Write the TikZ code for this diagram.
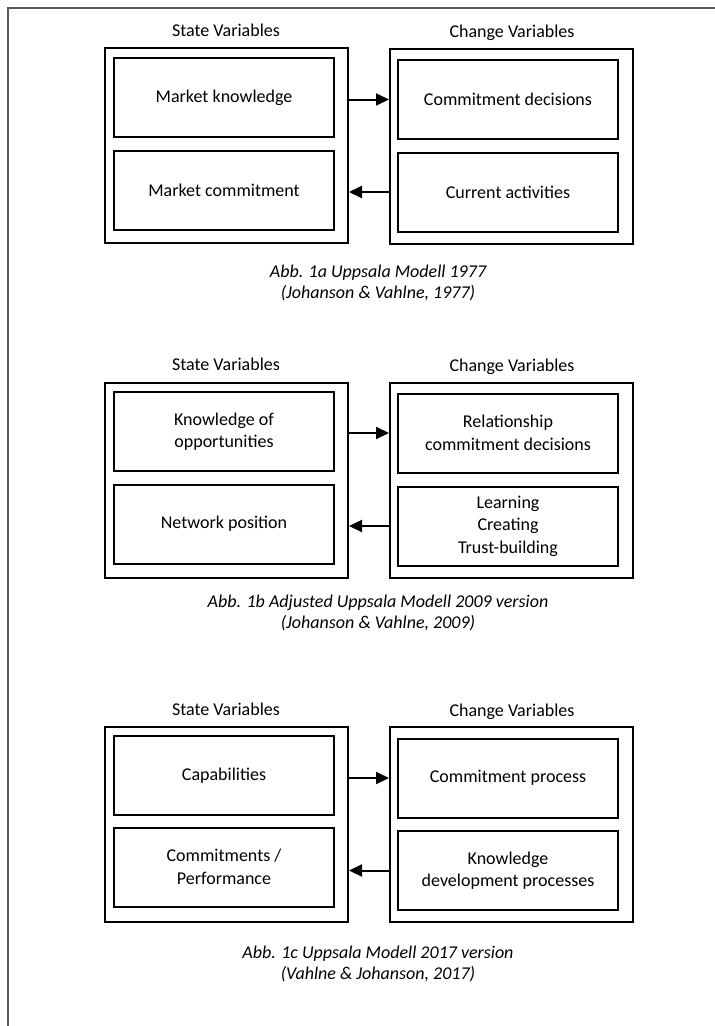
\documentclass[tikz,border=0pt]{standalone}
\usepackage{fontspec}
\setmainfont{Carlito}
\usetikzlibrary{arrows.meta}

\begin{document}
\begin{tikzpicture}[x=1pt,y=-1pt,
  outerbox/.style={draw,line width=2pt,inner sep=0pt,minimum width=243pt,minimum height=195pt},
  innerbox/.style={draw,line width=2pt,inner sep=0pt,minimum width=220pt,minimum height=79pt,align=center,font=\fontsize{18}{22.5}\selectfont},
  heading/.style={font=\fontsize{18}{22}\selectfont},
  caption/.style={align=center,font=\fontsize{18}{21}\selectfont\itshape},
  link/.style={line width=2pt,-{Triangle[length=13pt,width=12pt]}}]
\useasboundingbox (0,0) rectangle (715,1026);
\draw[line width=1.5pt,black!65] (8,1026) -- (8,8) -- (715,8);

% 1977
\node[heading] (stateHeadA) at (226,30) {State Variables};
\node[heading] (changeHeadA) at (512,33) {Change Variables};
\node[outerbox] (stateA) at (226.5,145.5) {};
\node[outerbox] (changeA) at (511.5,146) {};
\node[innerbox] (knowA) at (224,97.5) {Market knowledge};
\node[innerbox] (mcommitA) at (224,190.5) {Market commitment};
\node[innerbox] (decideA) at (508,99.5) {Commitment decisions};
\node[innerbox] (activA) at (508,192) {Current activities};
\draw[link] (stateA.east |- decideA) -- (changeA.west |- decideA);
\draw[link] (changeA.west |- activA) -- (stateA.east |- activA);
\node[caption] (capA) at (378,283) {Abb. 1a Uppsala Modell 1977\\(Johanson \& Vahlne, 1977)};

% 2009
\node[heading] (stateHeadB) at (226,364) {State Variables};
\node[heading] (changeHeadB) at (512,367) {Change Variables};
\node[outerbox] (stateB) at (226.5,480) {};
\node[outerbox] (changeB) at (511.5,480) {};
\node[innerbox] (knowB) at (224,431.5) {Knowledge of\\opportunities};
\node[innerbox] (netB) at (224,524) {Network position};
\node[innerbox] (relB) at (508,433) {Relationship\\commitment decisions};
\node[innerbox] (learnB) at (508,526) {Learning\\Creating\\Trust-building};
\draw[link] (stateB.east |- relB) -- (changeB.west |- relB);
\draw[link] (changeB.west |- learnB) -- (stateB.east |- learnB);
\node[caption] (capB) at (378,613) {Abb. 1b Adjusted Uppsala Modell 2009 version\\(Johanson \& Vahlne, 2009)};

% 2017
\node[heading] (stateHeadC) at (226,709) {State Variables};
\node[heading] (changeHeadC) at (512,712) {Change Variables};
\node[outerbox] (stateC) at (226.5,824.5) {};
\node[outerbox] (changeC) at (511.5,824.5) {};
\node[innerbox] (capabC) at (224,775.5) {Capabilities};
\node[innerbox] (perfC) at (224,867) {Commitments /\\Performance};
\node[innerbox] (processC) at (508,778) {Commitment process};
\node[innerbox] (devC) at (508,870.5) {Knowledge\\development processes};
\draw[link] (stateC.east |- processC) -- (changeC.west |- processC);
\draw[link] (changeC.west |- devC) -- (stateC.east |- devC);
\node[caption] (capC) at (378,964) {Abb. 1c Uppsala Modell 2017 version\\(Vahlne \& Johanson, 2017)};
\end{tikzpicture}
\end{document}
